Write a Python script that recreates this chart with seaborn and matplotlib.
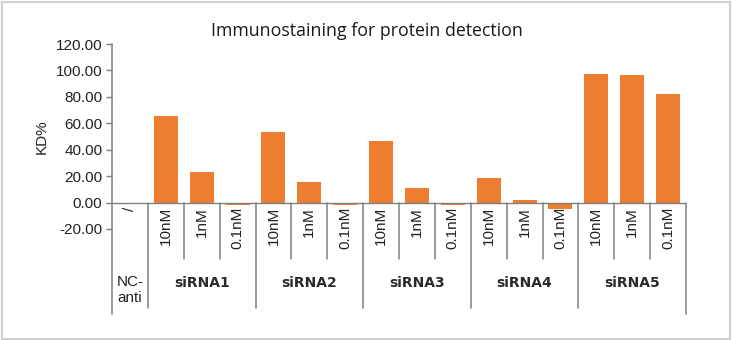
import matplotlib
matplotlib.use("Agg")
import matplotlib.pyplot as plt
import matplotlib.transforms as mtrans
from matplotlib.patches import Rectangle
from matplotlib.lines import Line2D
import seaborn as sns
import pandas as pd
import numpy as np

# ---- data ----
groups = ["siRNA1", "siRNA2", "siRNA3", "siRNA4", "siRNA5"]
doses = ["10nM", "1nM", "0.1nM"]
kd_siRNA1 = [65.3, 23.2, -1.5]
kd_siRNA2 = [53.6, 15.6, -2.0]
kd_siRNA3 = [46.6, 10.8, -1.6]
kd_siRNA4 = [18.9, 1.9, -5.0]
kd_siRNA5 = [97.0, 96.3, 82.3]
nc_label = "NC-\nanti"
nc_sub = "/"
title = "Immunostaining for protein detection"
ylabel = "KD%"
yticks = [-20, 0, 20, 40, 60, 80, 100, 120]

values = [kd_siRNA1, kd_siRNA2, kd_siRNA3, kd_siRNA4, kd_siRNA5]
cats = ["NC"]
vals = [np.nan]
subs = [nc_sub]
for g, v in zip(groups, values):
    for d, x in zip(doses, v):
        cats.append(f"{g} {d}")
        vals.append(x)
        subs.append(d)
df = pd.DataFrame({"cat": cats, "kd": vals})

sns.set_theme(style="white")
plt.rcParams["font.family"] = ["Liberation Sans", "DejaVu Sans"]

W, H = 732, 340
fig = plt.figure(figsize=(W / 100, H / 100), dpi=100)
ax_l, ax_r, ax_t, ax_b = 112, 686, 44, 229
ax = fig.add_axes([ax_l / W, (H - ax_b) / H, (ax_r - ax_l) / W, (ax_b - ax_t) / H])

orange = "#ED7D31"
grey = "#7F7F7F"
sns.barplot(data=df, x="cat", y="kd", order=cats, color=orange, width=0.67,
            errorbar=None, ax=ax, saturation=1, linewidth=0)

ax.set_ylim(-20, 120)
ax.set_xlim(-0.5, len(cats) - 0.5)
ax.set_yticks(yticks)
ax.set_yticklabels([f"{t:.2f}" for t in yticks], fontsize=11, color="#222222")
ax.tick_params(axis="y", which="both", left=True, length=4, width=1, color=grey, pad=3)
ax.set_xticks([])
ax.set_xlabel("")
ax.set_ylabel(ylabel, fontsize=11, color="#222222", labelpad=5)
for s in ax.spines.values():
    s.set_visible(False)

def py(p):
    return (ax_b - p) / (ax_b - ax_t)

trans = mtrans.blended_transform_factory(ax.transData, ax.transAxes)
n = len(cats)

# zero line
ax.axhline(0, color=grey, lw=1.0, zorder=5)
# y axis line
ax.add_line(Line2D([0, 0], [1, py(314)], transform=ax.transAxes, color=grey, lw=1.1, clip_on=False, zorder=5))
ax.add_line(Line2D([1, 1], [py(203), py(314)], transform=ax.transAxes, color=grey, lw=1.1, clip_on=False, zorder=5))
# separators
for i in range(1, n):
    xpos = i - 0.5
    if (i - 1) % 3 == 0:
        y1 = py(308)
    else:
        y1 = py(259)
    ax.add_line(Line2D([xpos, xpos], [py(203), y1], transform=trans, color=grey, lw=1.1, clip_on=False))

# sub labels
for i, s in enumerate(subs):
    ax.text(i, py(207), s, transform=trans, rotation=90, ha="center", va="top",
            fontsize=11, color="#222222", clip_on=False)

# group labels
ax.text(0, py(290), nc_label, transform=trans, ha="center", va="center",
        fontsize=11, color="#222222", linespacing=1.25, clip_on=False)
for k, g in enumerate(groups):
    ax.text(2 + 3 * k, py(283), g, transform=trans, ha="center", va="center",
            fontsize=10, fontweight="bold", color="#2a2a2a",
            family=["DejaVu Sans"], clip_on=False)

fig.text(367 / W, 1 - 31 / H, title, ha="center", va="center", fontsize=12.8,
         color="#1a1a1a", family=["Open Sans", "DejaVu Sans"])

fig.patches.append(Rectangle((1.5 / W, 1.5 / H), (W - 4) / W, (H - 3) / H,
                             transform=fig.transFigure, fill=False,
                             edgecolor="#D0D0D0", lw=1.5))

fig.savefig("out.png", dpi=100, facecolor="white")
